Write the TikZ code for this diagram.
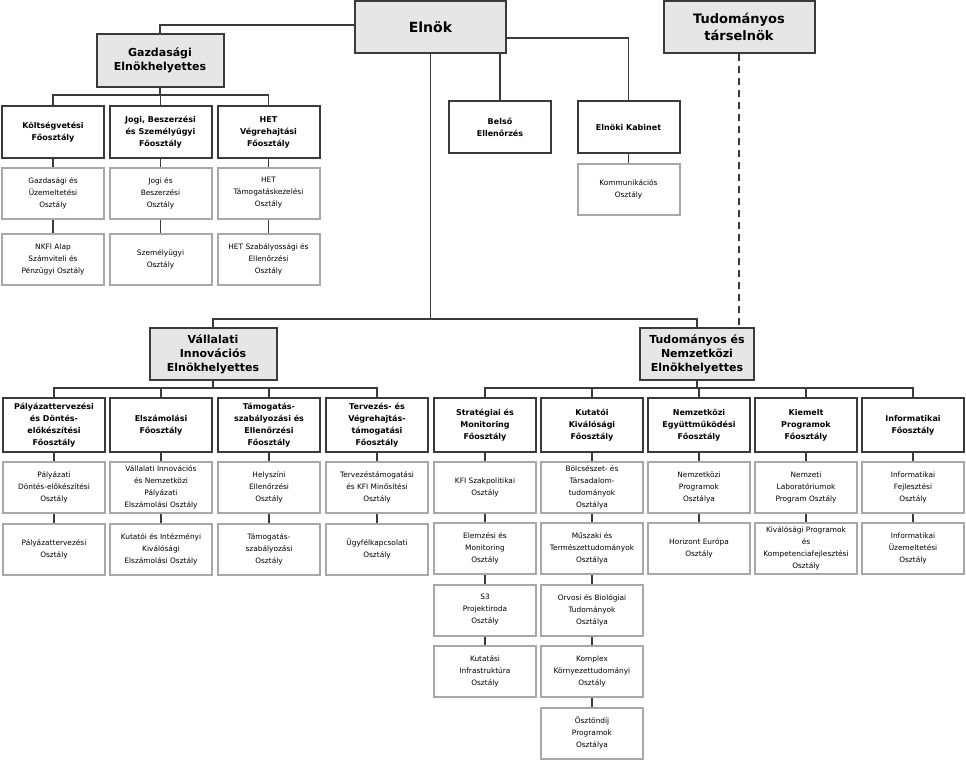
\documentclass[tikz,border=0pt]{standalone}
\usepackage{fontspec}
\setmainfont{DejaVu Sans}
\usetikzlibrary{backgrounds}
\definecolor{bigfill}{HTML}{E6E6E6}
\definecolor{dark}{HTML}{3A3A3A}
\definecolor{light}{HTML}{A8A8A8}
\begin{document}
\begin{tikzpicture}[x=1pt,y=-1pt,
  base/.style={draw, line width=2pt, align=center, inner sep=1pt},
  big/.style={base, draw=dark, fill=bigfill, font=\fontsize{11}{14}\selectfont\bfseries},
  fo/.style={base, draw=dark, fill=white, minimum width=102pt, minimum height=52pt, font=\fontsize{8}{12}\selectfont\bfseries},
  sub/.style={base, draw=light, fill=white, minimum width=102pt, minimum height=51pt, font=\fontsize{7.4}{12}\selectfont},
  ln/.style={draw=dark, line width=1.6pt}]
\useasboundingbox (0,0) rectangle (966,760);
% top
\node[big, minimum width=151pt, minimum height=52pt, font=\fontsize{14}{17}\selectfont\bfseries] (eln) at (430.5,27) {Elnök};
\node[big, minimum width=151pt, minimum height=52pt, font=\fontsize{13}{17}\selectfont\bfseries] (tars) at (739,27) {Tudományos\\társelnök};
\node[big, minimum width=127pt, minimum height=52pt] (gazd) at (160,60.5) {Gazdasági\\Elnökhelyettes};
\node[fo] (k1) at (53,132) {Költségvetési\\Főosztály};
\node[fo] (k2) at (160.5,132) {Jogi, Beszerzési\\és Személyügyi\\Főosztály};
\node[fo] (k3) at (268.5,132) {HET\\Végrehajtási\\Főosztály};
\node[sub] (k1a) at (53,193) {Gazdasági és\\Üzemeltetési\\Osztály};
\node[sub] (k1b) at (53,259) {NKFI Alap\\Számviteli és\\Pénzügyi Osztály};
\node[sub] (k2a) at (160.5,193) {Jogi és\\Beszerzési\\Osztály};
\node[sub] (k2b) at (160.5,259) {Személyügyi\\Osztály};
\node[sub] (k3a) at (268.5,193) {HET\\Támogatáskezelési\\Osztály};
\node[sub] (k3b) at (268.5,259) {HET Szabályossági és\\Ellenőrzési\\Osztály};
\node[fo] (bels) at (500,127) {Belső\\Ellenőrzés};
\node[fo] (kab) at (628.5,127) {Elnöki Kabinet};
\node[sub] (komm) at (628.5,189) {Kommunikációs\\Osztály};
% middle
\node[big, minimum width=127pt, minimum height=52pt] (vall) at (213,354) {Vállalati\\Innovációs\\Elnökhelyettes};
\node[big, minimum width=114pt, minimum height=52pt] (tud) at (697,354) {Tudományos és\\Nemzetközi\\Elnökhelyettes};
\coordinate (bus) at (0,319);
% Vallalati row
\node[fo, minimum height=54pt] (v1) at (54,425) {Pályázattervezési\\és Döntés-\\előkészítési\\Főosztály};
\node[fo, minimum height=54pt] (v2) at (161,425) {Elszámolási\\Főosztály};
\node[fo, minimum height=54pt] (v3) at (269,425) {Támogatás-\\szabályozási és\\Ellenőrzési\\Főosztály};
\node[fo, minimum height=54pt] (v4) at (377,425) {Tervezés- és\\Végrehajtás-\\támogatási\\Főosztály};
\node[sub] (v1a) at (54,487) {Pályázati\\Döntés-előkészítési\\Osztály};
\node[sub] (v1b) at (54,549) {Pályázattervezési\\Osztály};
\node[sub] (v2a) at (161,487) {Vállalati Innovációs\\és Nemzetközi\\Pályázati\\Elszámolási Osztály};
\node[sub] (v2b) at (161,549) {Kutatói és Intézményi\\Kiválósági\\Elszámolási Osztály};
\node[sub] (v3a) at (269,487) {Helyszíni\\Ellenőrzési\\Osztály};
\node[sub] (v3b) at (269,549) {Támogatás-\\szabályozási\\Osztály};
\node[sub] (v4a) at (377,487) {Tervezéstámogatási\\és KFI Minősítési\\Osztály};
\node[sub] (v4b) at (377,549) {Ügyfélkapcsolati\\Osztály};
% Tud row
\node[fo, minimum height=54pt] (t1) at (485,425) {Stratégiai és\\Monitoring\\Főosztály};
\node[fo, minimum height=54pt] (t2) at (592,425) {Kutatói\\Kiválósági\\Főosztály};
\node[fo, minimum height=54pt] (t3) at (699,425) {Nemzetközi\\Együttműködési\\Főosztály};
\node[fo, minimum height=54pt] (t4) at (806,425) {Kiemelt\\Programok\\Főosztály};
\node[fo, minimum height=54pt] (t5) at (913,425) {Informatikai\\Főosztály};
\node[sub] (t1a) at (485,487) {KFI Szakpolitikai\\Osztály};
\node[sub] (t1b) at (485,548) {Elemzési és\\Monitoring\\Osztály};
\node[sub] (t1c) at (485,610) {S3\\Projektiroda\\Osztály};
\node[sub] (t1d) at (485,671) {Kutatási\\Infrastruktúra\\Osztály};
\node[sub] (t2a) at (592,487) {Bölcsészet- és\\Társadalom-\\tudományok\\Osztálya};
\node[sub] (t2b) at (592,548) {Műszaki és\\Természettudományok\\Osztálya};
\node[sub] (t2c) at (592,610) {Orvosi és Biológiai\\Tudományok\\Osztálya};
\node[sub] (t2d) at (592,671) {Komplex\\Környezettudományi\\Osztály};
\node[sub] (t2e) at (592,733) {Ösztöndíj\\Programok\\Osztálya};
\node[sub] (t3a) at (699,487) {Nemzetközi\\Programok\\Osztálya};
\node[sub] (t3b) at (699,548) {Horizont Európa\\Osztály};
\node[sub] (t4a) at (806,487) {Nemzeti\\Laboratóriumok\\Program Osztály};
\node[sub] (t4b) at (806,548) {Kiválósági Programok\\és\\Kompetenciafejlesztési\\Osztály};
\node[sub] (t5a) at (913,487) {Informatikai\\Fejlesztési\\Osztály};
\node[sub] (t5b) at (913,548) {Informatikai\\Üzemeltetési\\Osztály};
\begin{scope}[on background layer]
\draw[ln] (eln.west |- 0,25) -| (gazd.north);
\foreach \n in {k1,k2,k3} \draw[ln] (\n.north) -- ++(0,-10) -| (gazd.south);
\draw[ln] (k1) -- (k1a) -- (k1b);
\draw[ln] (k2) -- (k2a) -- (k2b);
\draw[ln] (k3) -- (k3a) -- (k3b);
\draw[ln] (eln.east |- 0,38) -| (kab.north);
\draw[ln] (bels.north) -- (bels.north |- eln.south);
\draw[ln] (kab) -- (komm);
\draw[ln] (eln.south) -- (eln.south |- bus) coordinate (bm);
\draw[ln] (vall.north) |- (bm) -| (tud.north);
\draw[ln, dashed, dash pattern=on 7pt off 5pt] (tars.south) -- (tars.south |- tud.north);
\foreach \n in {v1,v2,v3,v4} \draw[ln] (\n.north) -- ++(0,-9) -| (vall.south);
\foreach \n in {t1,t2,t3,t4,t5} \draw[ln] (\n.north) -- ++(0,-9) -| (tud.south);
\draw[ln] (v1) -- (v1a) -- (v1b);
\draw[ln] (v2) -- (v2a) -- (v2b);
\draw[ln] (v3) -- (v3a) -- (v3b);
\draw[ln] (v4) -- (v4a) -- (v4b);
\draw[ln] (t1) -- (t1a) -- (t1b) -- (t1c) -- (t1d);
\draw[ln] (t2) -- (t2a) -- (t2b) -- (t2c) -- (t2d) -- (t2e);
\draw[ln] (t3) -- (t3a) -- (t3b);
\draw[ln] (t4) -- (t4a) -- (t4b);
\draw[ln] (t5) -- (t5a) -- (t5b);
\end{scope}
\end{tikzpicture}
\end{document}
